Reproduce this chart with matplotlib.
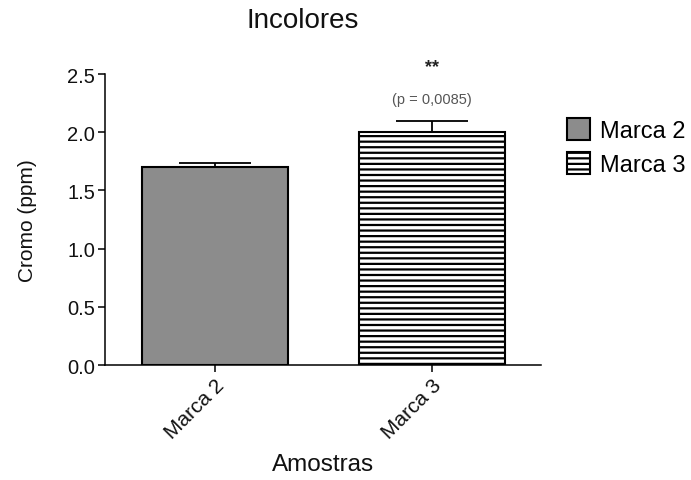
import matplotlib.pyplot as plt
import numpy as np

plt.rcParams["font.family"] = ["Liberation Sans", "DejaVu Sans"]
plt.rcParams["hatch.linewidth"] = 1.6

# Data ---------------------------------------------------------------
categories = ["Marca 2", "Marca 3"]
means = [1.70, 2.00]
errors = [0.035, 0.095]
y_ticks = [0.0, 0.5, 1.0, 1.5, 2.0, 2.5]
title = "Incolores"
p_label = "(p = 0,0085)"
stars = "**"

BAR_GREY = "#8c8c8c"
BLACK = "#111111"

fig = plt.figure(figsize=(6.91, 4.81), dpi=100)
fig.patch.set_facecolor("white")
ax = fig.add_axes([0.152, 0.239, 0.631, 0.605])

x = np.arange(len(categories))
bars = ax.bar(
    x, means, width=0.67,
    color=[BAR_GREY, "white"], edgecolor="black", linewidth=1.5,
    label=categories, zorder=2,
)
bars[1].set_hatch("---")

# upper error bars only
ax.errorbar(
    x, means, yerr=[np.zeros(len(errors)), errors],
    fmt="none", ecolor="black", elinewidth=1.3,
    capsize=26, capthick=1.3, zorder=3,
)

# significance annotation
ax.text(x[1], means[1] + errors[1] + 0.465, stars, ha="center", va="center",
        fontsize=13, color="#222222", fontweight="bold")
ax.text(x[1], means[1] + errors[1] + 0.19, p_label, ha="center", va="center",
        fontsize=10.5, color="#555555")

# layout -------------------------------------------------------------
ax.set_xlim(-0.507, 1.502)
ax.set_ylim(0, 2.5)
ax.set_yticks(y_ticks)
ax.set_yticklabels([f"{t:.1f}" for t in y_ticks], fontsize=14.5, color=BLACK)
ax.set_xticks(x)
ax.set_xticklabels(categories, rotation=45, ha="right", rotation_mode="anchor",
                   fontsize=15, color=BLACK)
ax.tick_params(axis="both", direction="out", length=5, width=1.1, pad=2)

ax.spines["right"].set_visible(False)
ax.spines["top"].set_visible(False)
ax.spines["left"].set_linewidth(1.1)
ax.spines["bottom"].set_linewidth(1.1)

ax.set_ylabel("Cromo (ppm)", fontsize=15, color=BLACK, labelpad=22)
ax.set_xlabel("Amostras", fontsize=17.5, color=BLACK, labelpad=8)

fig.text(303 / 691, 1 - 21 / 481, title, ha="center", va="center",
         fontsize=20, color=BLACK)

leg = ax.legend(
    loc="upper left", bbox_to_anchor=(1.037, 0.88), frameon=False,
    fontsize=17, handlelength=0.97, handleheight=1.05, handletextpad=0.45,
    labelspacing=0.42, borderaxespad=0,
)

fig.savefig("out.png", dpi=100, facecolor="white")
